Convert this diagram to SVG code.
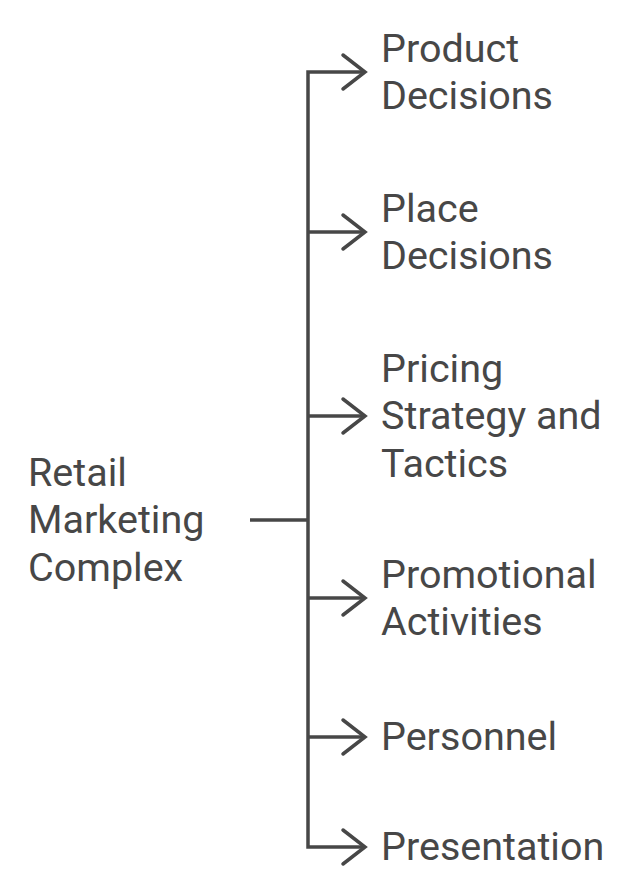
<svg xmlns="http://www.w3.org/2000/svg" width="640" height="896" viewBox="0 0 640 896">
<style>
.c{fill:none;stroke:#474747;stroke-width:3.5;stroke-linejoin:miter;stroke-linecap:butt}
.h{fill:none;stroke:#474747;stroke-width:3.5;stroke-linejoin:miter;stroke-linecap:round}
text{font-family:Roboto,"Liberation Sans",sans-serif;font-size:39.5px;fill:#474747}
</style>
<rect width="640" height="896" fill="#ffffff"/>
<g id="connectors">
<path class="c" d="M364 72 H308 V847 H364"/>
<path class="c" d="M308 232 H364"/>
<path class="c" d="M308 416 H364"/>
<path class="c" d="M308 598 H364"/>
<path class="c" d="M308 737 H364"/>
<path class="c" d="M250 520 H308"/>
<path class="h" d="M343 55 L365 72 L343 89"/>
<path class="h" d="M343 215 L365 232 L343 249"/>
<path class="h" d="M343 399 L365 416 L343 433"/>
<path class="h" d="M343 581 L365 598 L343 615"/>
<path class="h" d="M343 720 L365 737 L343 754"/>
<path class="h" d="M343 830 L365 847 L343 864"/>
</g>
<g id="root">
<text x="28" y="485.5">Retail</text>
<text x="28" y="533">Marketing</text>
<text x="28" y="580.5">Complex</text>
</g>
<g id="product">
<text x="381" y="61.5">Product</text>
<text x="381" y="109">Decisions</text>
</g>
<g id="place">
<text x="381" y="221.5">Place</text>
<text x="381" y="269">Decisions</text>
</g>
<g id="pricing">
<text x="381" y="381.5">Pricing</text>
<text x="381" y="429">Strategy and</text>
<text x="381" y="476.5">Tactics</text>
</g>
<g id="promotional">
<text x="381" y="587.5">Promotional</text>
<text x="381" y="635">Activities</text>
</g>
<g id="personnel">
<text x="381" y="750">Personnel</text>
</g>
<g id="presentation">
<text x="381" y="860">Presentation</text>
</g>
</svg>
